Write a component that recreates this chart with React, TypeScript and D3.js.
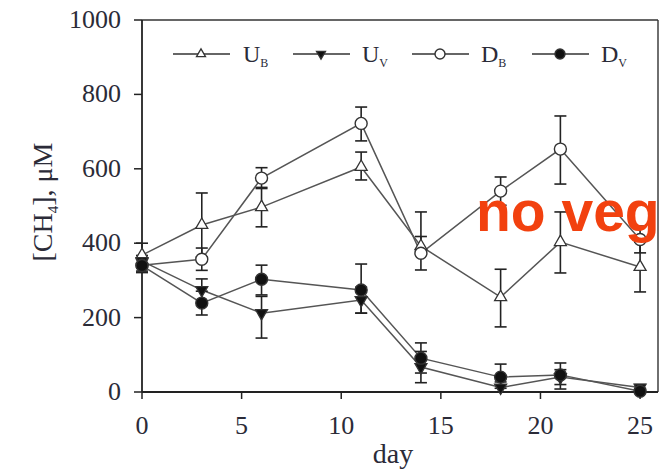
import React from 'react';
import * as d3 from 'd3';

// days of sampling
const days = [0, 3, 6, 11, 14, 18, 21, 25];

// [CH4] µM per treatment, with error bar extents (up / down)
const ubMean = [368, 449, 497, 605, 392, 255, 403, 336];
const ubUp = [32, 86, 53, 40, 92, 75, 81, 67];
const ubDown = [32, 86, 53, 35, 20, 80, 83, 67];

const uvMean = [352, 274, 212, 247, 67, 12, 40, 12];
const uvUp = [15, 30, 45, 35, 42, 15, 20, 8];
const uvDown = [15, 30, 67, 35, 42, 12, 20, 8];

const dbMean = [341, 357, 575, 722, 373, 540, 653, 410];
const dbUp = [20, 30, 28, 44, 45, 38, 89, 36];
const dbDown = [20, 30, 28, 47, 45, 38, 94, 36];

const dvMean = [340, 239, 303, 274, 91, 40, 46, 2];
const dvUp = [15, 32, 38, 70, 41, 35, 32, 8];
const dvDown = [15, 32, 42, 62, 40, 30, 38, 2];

const xTicks = [0, 5, 10, 15, 20, 25];
const yTicks = [0, 200, 400, 600, 800, 1000];

const W = 659;
const H = 473;
const FRAME_RIGHT = 658;

const serif = '"Liberation Serif", "DejaVu Serif", serif';
const textColor = '#2b2b38';
const lineColor = '#555';

type Shape = 'triUp' | 'triDown' | 'circle';

const series = [
  { key: 'ub', label: 'U', sub: 'B', mean: ubMean, up: ubUp, down: ubDown, shape: 'triUp' as Shape, filled: false },
  { key: 'uv', label: 'U', sub: 'V', mean: uvMean, up: uvUp, down: uvDown, shape: 'triDown' as Shape, filled: true },
  { key: 'db', label: 'D', sub: 'B', mean: dbMean, up: dbUp, down: dbDown, shape: 'circle' as Shape, filled: false },
  { key: 'dv', label: 'D', sub: 'V', mean: dvMean, up: dvUp, down: dvDown, shape: 'circle' as Shape, filled: true },
];

// s = circle radius, or triangle side length
function Marker({ shape, filled, cx, cy, s }: { shape: Shape; filled: boolean; cx: number; cy: number; s: number }) {
  const fill = filled ? '#111' : '#fff';
  if (shape === 'circle') {
    return <circle cx={cx} cy={cy} r={s} fill={fill} stroke="#333" strokeWidth={1.4} />;
  }
  const area = (s * s * Math.sqrt(3)) / 4;
  const sym = d3.symbol().type(d3.symbolTriangle).size(area)();
  const rot = shape === 'triDown' ? 180 : 0;
  return (
    <path
      d={sym || ''}
      transform={`translate(${cx},${cy}) rotate(${rot})`}
      fill={fill}
      stroke="#333"
      strokeWidth={1.3}
    />
  );
}

export default function App() {
  const x = d3.scaleLinear().domain([0, 26]).range([142, 660]);
  const y = d3.scaleLinear().domain([0, 1000]).range([392, 20]);

  const line = d3
    .line<number>()
    .x((_, i) => x(days[i]))
    .y((d) => y(d));

  const x0 = x(0);
  const y0 = y(0);
  const yTop = y(1000);

  const legendItems = [
    { lx: 173, tx: 243 },
    { lx: 293, tx: 362 },
    { lx: 412, tx: 481 },
    { lx: 532, tx: 601 },
  ];
  const legendY = 54;

  return (
    <svg
      width={W}
      height={H}
      style={{ position: 'absolute', left: 0, top: 0, background: '#fff' }}
    >
      <rect width={W} height={H} fill="#fff" />

      {/* frame */}
      <line x1={x0} x2={FRAME_RIGHT} y1={yTop} y2={yTop} stroke="#333" strokeWidth={1.6} />
      <line x1={FRAME_RIGHT} x2={FRAME_RIGHT} y1={yTop} y2={y0} stroke="#333" strokeWidth={1.4} />
      <line x1={x0} x2={x0} y1={yTop} y2={y0} stroke="#222" strokeWidth={1.8} />
      <line x1={x0} x2={FRAME_RIGHT} y1={y0} y2={y0} stroke="#222" strokeWidth={1.8} />

      {/* y axis */}
      {yTicks.map((t) => (
        <g key={'y' + t}>
          <line x1={x0 - 8} x2={x0} y1={y(t)} y2={y(t)} stroke="#222" strokeWidth={1.5} />
          <text
            x={121}
            y={y(t) + 8}
            textAnchor="end"
            fontFamily={serif}
            fontSize={26}
            fill={textColor}
          >
            {t}
          </text>
        </g>
      ))}

      {/* x axis */}
      {xTicks.map((t) => (
        <g key={'x' + t}>
          <line x1={x(t)} x2={x(t)} y1={y0} y2={y0 + 7} stroke="#222" strokeWidth={1.5} />
          <text
            x={x(t)}
            y={434}
            textAnchor="middle"
            fontFamily={serif}
            fontSize={26}
            fill={textColor}
          >
            {t}
          </text>
        </g>
      ))}

      <text x={393} y={463} textAnchor="middle" fontFamily={serif} fontSize={28} fill={textColor}>
        day
      </text>

      <text
        transform="translate(52,202) rotate(-90)"
        textAnchor="middle"
        fontFamily={serif}
        fontSize={28}
        fill={textColor}
      >
        [CH
        <tspan fontSize={15} dy={6}>4</tspan>
        <tspan dy={-6}>], μM</tspan>
      </text>

      {/* lines */}
      {series.map((s) => (
        <path key={'l' + s.key} d={line(s.mean) || ''} fill="none" stroke={lineColor} strokeWidth={1.5} />
      ))}

      {/* error bars */}
      {series.map((s) =>
        s.mean.map((m, i) => {
          const cx = x(days[i]);
          const hi = y(m + s.up[i]);
          const lo = y(Math.max(0, m - s.down[i]));
          return (
            <g key={'e' + s.key + i} stroke="#222" strokeWidth={1.6}>
              <line x1={cx} x2={cx} y1={hi} y2={lo} />
              <line x1={cx - 6} x2={cx + 6} y1={hi} y2={hi} />
              <line x1={cx - 6} x2={cx + 6} y1={lo} y2={lo} />
            </g>
          );
        })
      )}

      {/* markers */}
      {series.map((s) =>
        s.mean.map((m, i) => (
          <Marker
            key={'m' + s.key + i}
            shape={s.shape}
            filled={s.filled}
            cx={x(days[i])}
            cy={y(m)}
            s={s.shape === 'circle' ? 6 : 12}
          />
        ))
      )}

      {/* legend */}
      {series.map((s, i) => {
        const it = legendItems[i];
        return (
          <g key={'lg' + s.key}>
            <line x1={it.lx} x2={it.lx + 57} y1={legendY} y2={legendY} stroke="#333" strokeWidth={1.6} />
            <Marker
              shape={s.shape}
              filled={s.filled}
              cx={it.lx + 28}
              cy={legendY}
              s={s.shape === 'circle' ? 5 : 9}
            />
            <text x={it.tx} y={legendY + 8} fontFamily={serif} fontSize={24} fill={textColor}>
              {s.label}
              <tspan fontSize={12} dy={5}>{s.sub}</tspan>
            </text>
          </g>
        );
      })}

      {/* annotation */}
      <text
        x={476}
        y={231}
        fontFamily='"Liberation Sans", Arial, sans-serif'
        fontWeight="bold"
        fontSize={57}
        fill="#f2410f"
      >
        no veg
      </text>
    </svg>
  );
}
